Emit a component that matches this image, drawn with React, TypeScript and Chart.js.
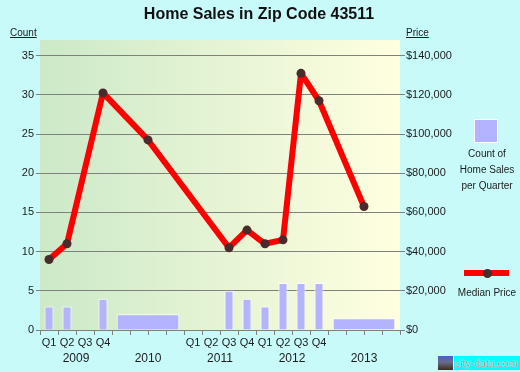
import React, { useEffect, useRef } from "react";
import { Chart, registerables } from "chart.js";
Chart.register(...registerables);

const FONT = 'Arial, "Liberation Sans", sans-serif';

const years = ["2009", "2010", "2011", "2012", "2013"];
const quarterLabels = ["Q1", "Q2", "Q3", "Q4", "", "", "", "", "Q1", "Q2", "Q3", "Q4", "Q1", "Q2", "Q3", "Q4", "", "", "", ""];
const quarterlyCounts = [3, 3, 0, 4, null, null, null, null, 0, 0, 5, 4, 3, 6, 6, 6, null, null, null, null];
const annualCounts = [null, 2, null, null, 1.5];
const pricePeriods = ["2009 Q1", "2009 Q2", "2009 Q4", "2010", "2011 Q3", "2011 Q4", "2012 Q1", "2012 Q2", "2012 Q3", "2012 Q4", "2013"];
const medianPrices = [36000, 44000, 121000, 97000, 42000, 51000, 44000, 46000, 131000, 117000, 63000];
const countMax = 37;
const countStep = 5;
const priceMax = 148000;
const priceStep = 20000;

const quarterIds = years.flatMap((y) => [1, 2, 3, 4].map((q) => `${y} Q${q}`));
const periodX = (p: string) => {
  const [y, q] = p.split(" Q");
  const base = (Number(y) - Number(years[0])) * 4;
  return q ? base + Number(q) - 0.5 : base + 2;
};
const stepTicks = (max: number, step: number) =>
  Array.from({ length: Math.floor(max / step) + 1 }, (_, i) => ({ value: i * step }));

const TEXT = "#1c1c1c";
const GRID = "#808080";
const BAR = "#b3b3ff";

export default function App() {
  const ref = useRef<HTMLCanvasElement>(null);
  useEffect(() => {
    const plotBg = {
      id: "plotBg",
      beforeDraw(chart: any) {
        const { ctx, chartArea: a } = chart;
        const g = ctx.createLinearGradient(a.left, 0, a.right, 0);
        g.addColorStop(0, "#cce9c8");
        g.addColorStop(1, "#ffffe0");
        ctx.save();
        ctx.fillStyle = g;
        ctx.fillRect(a.left, a.top, a.right - a.left, a.bottom - a.top);
        ctx.restore();
      },
    };
    const chart = new Chart(ref.current!, {
      type: "bar",
      data: {
        datasets: [
          {
            type: "line",
            label: "Median Price",
            data: pricePeriods.map((p, i) => ({ x: periodX(p), y: medianPrices[i] })),
            xAxisID: "x",
            yAxisID: "yPrice",
            borderColor: "#ff0000",
            borderWidth: 6,
            borderJoinStyle: "round",
            pointRadius: 4.5,
            pointBackgroundColor: "#4a2b2b",
            pointBorderWidth: 0,
            order: 0,
          } as any,
          {
            type: "bar",
            label: "Count",
            data: quarterlyCounts.map((v) => (v ? v : null)),
            xAxisID: "xQ",
            yAxisID: "y",
            backgroundColor: BAR,
            borderColor: "#ffffff",
            borderWidth: 1,
            barPercentage: 0.5,
            categoryPercentage: 1,
            grouped: false,
            order: 1,
          },
          {
            type: "bar",
            label: "Count (year)",
            data: annualCounts,
            xAxisID: "xYr",
            yAxisID: "y",
            backgroundColor: BAR,
            borderColor: "#ffffff",
            borderWidth: 1,
            barPercentage: 0.87,
            categoryPercentage: 1,
            grouped: false,
            order: 1,
          },
        ],
      },
      options: {
        responsive: false,
        animation: false,
        layout: { padding: { top: 40, left: 0, right: 0, bottom: 0 } },
        plugins: { legend: { display: false }, tooltip: { enabled: false }, title: { display: false } },
        scales: {
          x: {
            type: "linear",
            position: "bottom",
            min: 0,
            max: quarterIds.length,
            offset: false,
            weight: 0,
            afterBuildTicks: (s: any) => {
              s.ticks = Array.from({ length: quarterIds.length + 1 }, (_, i) => ({ value: i }));
            },
            ticks: { display: false },
            grid: { offset: false, drawOnChartArea: false, drawTicks: true, tickLength: 5, color: GRID },
            border: { display: true, color: GRID },
            afterFit: (s: any) => {
              s.height = 6;
              s.paddingLeft = 0;
              s.paddingRight = 0;
            },
          },
          xQL: {
            type: "linear",
            position: "bottom",
            min: 0,
            max: quarterIds.length,
            offset: false,
            weight: 1,
            grid: { display: false, drawTicks: false, offset: false },
            border: { display: false },
            afterBuildTicks: (s: any) => {
              s.ticks = quarterLabels.map((_, i) => ({ value: i + 0.5 }));
            },
            ticks: {
              autoSkip: false,
              maxRotation: 0,
              minRotation: 0,
              padding: 0,
              color: TEXT,
              font: { size: 11, family: FONT },
              callback: (_v: any, i: number) => quarterLabels[i],
            },
            afterFit: (s: any) => {
              s.height = 15;
              s.paddingLeft = 0;
              s.paddingRight = 0;
            },
          },
          xYL: {
            type: "linear",
            position: "bottom",
            min: 0,
            max: quarterIds.length,
            offset: false,
            weight: 2,
            grid: { display: false, drawTicks: false, offset: false },
            border: { display: false },
            afterBuildTicks: (s: any) => {
              s.ticks = years.map((y) => ({ value: periodX(y) }));
            },
            ticks: {
              autoSkip: false,
              maxRotation: 0,
              minRotation: 0,
              padding: 0,
              color: TEXT,
              font: { size: 12, family: FONT },
              callback: (_v: any, i: number) => years[i],
            },
            afterFit: (s: any) => {
              s.height = 21;
              s.paddingLeft = 0;
              s.paddingRight = 0;
            },
          },
          xQ: { type: "category", labels: quarterIds, display: false, offset: true },
          xYr: { type: "category", labels: years, display: false, offset: true },
          y: {
            type: "linear",
            position: "left",
            min: 0,
            max: countMax,
            afterBuildTicks: (s: any) => {
              s.ticks = stepTicks(countMax, countStep);
            },
            ticks: { padding: 2, color: TEXT, font: { size: 11, family: FONT } },
            grid: { color: GRID, tickLength: 4 },
            border: { display: false },
            afterFit: (s: any) => {
              s.width = 40;
              s.paddingTop = 0;
              s.paddingBottom = 0;
            },
          },
          yPrice: {
            type: "linear",
            position: "right",
            min: 0,
            max: priceMax,
            afterBuildTicks: (s: any) => {
              s.ticks = stepTicks(priceMax, priceStep);
            },
            ticks: {
              padding: 1,
              color: TEXT,
              font: { size: 11, family: FONT },
              callback: (v: any) => "$" + Number(v).toLocaleString("en-US"),
            },
            grid: { drawOnChartArea: false, tickLength: 5, color: GRID },
            border: { display: false },
            afterFit: (s: any) => {
              s.width = 120;
              s.paddingTop = 0;
              s.paddingBottom = 0;
            },
          },
        },
      } as any,
      plugins: [plotBg],
    });
    return () => chart.destroy();
  }, []);

  const abs = (o: React.CSSProperties): React.CSSProperties => ({ position: "absolute", ...o });

  return (
    <div style={abs({ left: 0, top: 0, width: 520, height: 372, background: "#c8fafa", fontFamily: FONT, color: TEXT, overflow: "hidden" })}>
      <canvas ref={ref} width={520} height={372} style={abs({ left: 0, top: 0, width: 520, height: 372 })} />
      <div style={abs({ left: 0, top: 4, width: 518, height: 20, lineHeight: "20px", textAlign: "center", fontSize: 16, fontWeight: "bold", color: "#111" })}>
        Home Sales in Zip Code 43511
      </div>
      <div style={abs({ left: 10, top: 27, fontSize: 10, lineHeight: "12px", textDecoration: "underline" })}>Count</div>
      <div style={abs({ left: 406, top: 27, fontSize: 10, lineHeight: "12px", textDecoration: "underline" })}>Price</div>
      <div style={abs({ left: 474, top: 119, width: 24, height: 24, background: BAR, border: "1px solid #ffffff", boxSizing: "border-box" })} />
      <div style={abs({ left: 442, top: 146, width: 90, textAlign: "center", fontSize: 10, lineHeight: "16px" })}>
        Count of
        <br />
        Home Sales
        <br />
        per Quarter
      </div>
      <div style={abs({ left: 464, top: 270, width: 45, height: 6, background: "#ff0000" })} />
      <div style={abs({ left: 482.5, top: 268.5, width: 9, height: 9, borderRadius: "50%", background: "#4a2b2b" })} />
      <div style={abs({ left: 442, top: 285, width: 90, textAlign: "center", fontSize: 10, lineHeight: "16px" })}>Median Price</div>
      <div style={abs({ left: 438, top: 356, width: 15, height: 14, background: "linear-gradient(#4a5fd0, #6a6a88 45%, #3a2e1e)" })} />
      <div style={abs({ left: 454, top: 356, width: 66, height: 14, background: "#00ffff", fontSize: 10.5, lineHeight: "14px", color: "#909a9a", textShadow: "0 0 1px #fff, 0 0 1px #fff", paddingLeft: 1, boxSizing: "border-box", whiteSpace: "nowrap" })}>
        city-data.com
      </div>
    </div>
  );
}
